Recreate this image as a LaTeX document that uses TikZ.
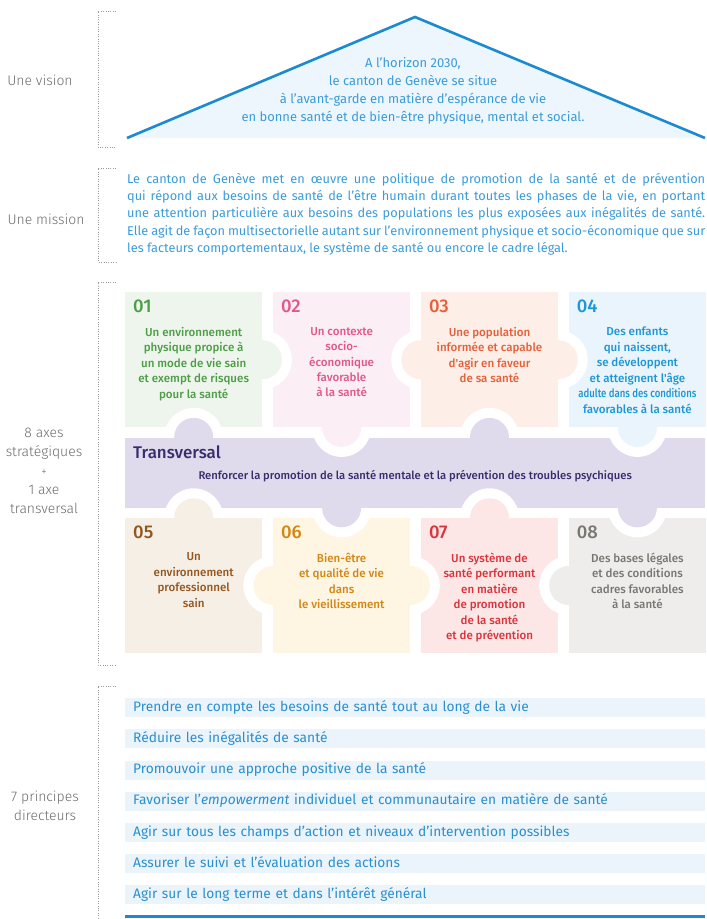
\documentclass[tikz,border=0pt]{standalone}
\usepackage{fontspec}
\usepackage{graphicx}
\setmainfont{Fira Sans}
\newfontfamily\lightfont{Fira Sans Light}
\newfontfamily\medfont{Fira Sans Medium}
\usetikzlibrary{positioning}

\definecolor{roofblue}{HTML}{1B8AD3}
\definecolor{roofbg}{HTML}{EDF6FC}
\definecolor{textblue}{HTML}{3A9BD9}
\definecolor{princblue}{HTML}{2A8FD0}
\definecolor{barblue}{HTML}{EBF4FB}
\definecolor{labelgray}{HTML}{6B6B6B}
\definecolor{bracketgray}{HTML}{9A9A9A}
\definecolor{fillA}{HTML}{EDF5EC}\definecolor{textA}{HTML}{4E9D47}
\definecolor{fillB}{HTML}{FCEEF5}\definecolor{textB}{HTML}{E0578B}
\definecolor{fillC}{HTML}{FDEFE7}\definecolor{textC}{HTML}{E5603A}
\definecolor{fillD}{HTML}{E9F4FC}\definecolor{textD}{HTML}{1C97D6}
\definecolor{fillT}{HTML}{DFDBED}\definecolor{textT}{HTML}{3A2D6B}
\definecolor{fillE}{HTML}{F5EFE6}\definecolor{textE}{HTML}{94561F}
\definecolor{fillF}{HTML}{FEF6E3}\definecolor{textF}{HTML}{D18615}
\definecolor{fillG}{HTML}{FCE7E6}\definecolor{textG}{HTML}{D8343C}
\definecolor{fillH}{HTML}{EEEDEC}\definecolor{textH}{HTML}{7B7671}

\tikzset{
    bracket/.style={draw=bracketgray, dash pattern=on 0.8bp off 1.6bp, line width=0.8bp},
    sidelabel/.style={text=labelgray, align=center, inner sep=0pt, font=\lightfont\fontsize{14}{19}\selectfont},
    piece/.style={anchor=north west, minimum width=137bp, minimum height=135bp, inner sep=0pt},
    pnum/.style={anchor=north west, inner sep=0pt, font=\medfont\fontsize{18.5}{18.5}\selectfont},
    ptext/.style={anchor=north, inner sep=0pt, align=center, font=\medfont\fontsize{11.6}{15.5}\selectfont},
    principle/.style={fill=barblue, text=princblue, text width=564bp, inner xsep=8bp, inner ysep=0pt,
        minimum height=19bp, text height=10bp, text depth=3bp, align=left, font=\fontsize{13.8}{16}\selectfont},
    knob/.style={radius=19.5bp},
    hole/.style={fill=white, radius=29.5bp}
}

\begin{document}
\begin{tikzpicture}[x=1bp, y=-1bp]
                        \useasboundingbox (0,0) rectangle (707,919);

                        \node[sidelabel] (lvision) at (40,80) {Une vision};
                        \node[sidelabel] (lmission) at (46,219) {Une mission};
                        \node[sidelabel] (laxes) at (44,471) {8 axes\\ stratégiques\\ {\fontsize{11}{19}\selectfont +}\\ 1 axe\\ transversal};
                        \node[sidelabel] (lprinc) at (45,806) {7 principes\\ directeurs};

                        \draw[bracket] (116,11) -- (98,11) -- (98,147) -- (116,147);
                        \draw[bracket] (116,168) -- (98,168) -- (98,262) -- (116,262);
                        \draw[bracket] (116,282) -- (98,282) -- (98,665) -- (116,665);
                        \draw[bracket] (116,686) -- (98,686) -- (98,919);

                        \coordinate (eaveL) at (127,138);
                        \coordinate (apex) at (415,17);
                        \coordinate (eaveR) at (705,138);
                        \fill[roofbg] (eaveL) -- (apex) -- (eaveR) -- cycle;
                        \draw[roofblue, line width=2.6bp] (eaveL) -- (apex) -- (eaveR);
                        \node[text=textblue, align=center, font=\fontsize{13}{18}\selectfont] (vision) at (413,91)
                        {A l'horizon 2030,\\ le canton de Genève se situe\\ à l'avant-garde en matière d'espérance de vie\\ en bonne santé et de bien-être physique, mental et social.};

                        \node[anchor=north west, inner sep=0pt, text=textblue, align=left, font=\fontsize{12.8}{17.3}\selectfont] (mission) at (127,173)
                        {\makebox[578bp][s]{Le canton de Genève met en œuvre une politique de promotion de la santé et de prévention}\\
                         \makebox[578bp][s]{qui répond aux besoins de santé de l'être humain durant toutes les phases de la vie, en portant}\\
                         \makebox[578bp][s]{une attention particulière aux besoins des populations les plus exposées aux inégalités de santé.}\\
                         \makebox[578bp][s]{Elle agit de façon multisectorielle autant sur l'environnement physique et socio-économique que sur}\\
                         les facteurs comportementaux, le système de santé ou encore le cadre légal.};

                        \node[piece, fill=fillA] (p1) at (125,292) {};
                        \node[piece, fill=fillB, right=10.5bp of p1] (p2) {};
                        \node[piece, fill=fillC, right=10.5bp of p2] (p3) {};
                        \node[piece, fill=fillD, right=10.5bp of p3] (p4) {};
                        \node[anchor=north west, inner sep=0pt, minimum width=580bp, minimum height=70bp, fill=fillT,
                            below right=10bp and 0bp of p1.south west] (trans) {};
                        \node[piece, fill=fillE, below right=10bp and 0bp of trans.south west] (p5) {};
                        \node[piece, fill=fillF, right=10.5bp of p5] (p6) {};
                        \node[piece, fill=fillG, right=10.5bp of p6] (p7) {};
                        \node[piece, fill=fillH, right=10.5bp of p7] (p8) {};

                        \begin{scope}
                            \clip (p2.north west) rectangle (p2.south east);
                            \fill[hole] (p1.east) circle[] (p3.west) circle[];
                        \end{scope}
                        \begin{scope}
                            \clip (p4.north west) rectangle (p4.south east);
                            \fill[hole] (p3.east) circle[];
                        \end{scope}
                        \begin{scope}
                            \clip (p1.north west) rectangle (p1.south east);
                            \fill[hole] (p1.south |- trans.north) circle[];
                        \end{scope}
                        \begin{scope}
                            \clip (p3.north west) rectangle (p3.south east);
                            \fill[hole] (p3.south |- trans.north) circle[];
                        \end{scope}
                        \begin{scope}
                            \clip (trans.north west) rectangle (trans.south east);
                            \fill[hole] (p2.south) circle[] (p4.south) circle[] (p5.north) circle[] (p7.north) circle[];
                        \end{scope}
                        \begin{scope}
                            \clip (p5.north west) rectangle (p5.south east);
                            \fill[hole] (p6.west) circle[];
                        \end{scope}
                        \begin{scope}
                            \clip (p7.north west) rectangle (p7.south east);
                            \fill[hole] (p6.east) circle[] (p8.west) circle[];
                        \end{scope}
                        \begin{scope}
                            \clip (p6.north west) rectangle (p6.south east);
                            \fill[hole] (p6.north |- trans.south) circle[];
                        \end{scope}
                        \begin{scope}
                            \clip (p8.north west) rectangle (p8.south east);
                            \fill[hole] (p8.north |- trans.south) circle[];
                        \end{scope}

                        \fill[fillA, knob] (p1.east) circle[];
                        \fill[fillC, knob] (p3.west) circle[] (p3.east) circle[];
                        \fill[fillB, knob] (p2.south) circle[];
                        \fill[fillD, knob] (p4.south) circle[];
                        \fill[fillT, knob] (p1.south |- trans.north) circle[] (p3.south |- trans.north) circle[]
                            (p6.north |- trans.south) circle[] (p8.north |- trans.south) circle[];
                        \fill[fillE, knob] (p5.north) circle[];
                        \fill[fillF, knob] (p6.west) circle[] (p6.east) circle[];
                        \fill[fillG, knob] (p7.north) circle[];
                        \fill[fillH, knob] (p8.west) circle[];

                        \node[pnum, text=textA] (n1) at ([shift={(8bp,-8bp)}]p1.north west) {01};
                        \node[pnum, text=textB] (n2) at ([shift={(8bp,-8bp)}]p2.north west) {02};
                        \node[pnum, text=textC] (n3) at ([shift={(8bp,-8bp)}]p3.north west) {03};
                        \node[pnum, text=textD] (n4) at ([shift={(8bp,-8bp)}]p4.north west) {04};
                        \node[pnum, text=textE] (n5) at ([shift={(8bp,-8bp)}]p5.north west) {05};
                        \node[pnum, text=textF] (n6) at ([shift={(8bp,-8bp)}]p6.north west) {06};
                        \node[pnum, text=textG] (n7) at ([shift={(8bp,-8bp)}]p7.north west) {07};
                        \node[pnum, text=textH] (n8) at ([shift={(8bp,-8bp)}]p8.north west) {08};

                        \node[ptext, text=textA] (d1) at ([yshift=-35bp]p1.north) {Un environnement\\ physique propice à\\ un mode de vie sain\\ et exempt de risques\\ pour la santé};
                        \node[ptext, text=textB] (d2) at ([yshift=-35bp]p2.north) {Un contexte\\ socio-\\ économique\\ favorable\\ à la santé};
                        \node[ptext, text=textC] (d3) at ([yshift=-35bp]p3.north) {Une population\\ informée et capable\\ d'agir en faveur\\ de sa santé};
                        \node[ptext, text=textD] (d4) at ([yshift=-35bp]p4.north) {Des enfants\\ qui naissent,\\ se développent\\ et atteignent l'âge\\ \scalebox{0.83}[1]{adulte dans des conditions}\\ favorables à la santé};
                        \node[ptext, text=textE] (d5) at ([yshift=-35bp]p5.north) {Un\\ environnement\\ professionnel\\ sain};
                        \node[ptext, text=textF] (d6) at ([yshift=-35bp]p6.north) {Bien-être\\ et qualité de vie\\ dans\\ le vieillissement};
                        \node[ptext, text=textG] (d7) at ([yshift=-35bp]p7.north) {Un système de\\ santé performant\\ en matière\\ de promotion\\ de la santé\\ et de prévention};
                        \node[ptext, text=textH] (d8) at ([yshift=-35bp]p8.north) {Des bases légales\\ et des conditions\\ cadres favorables\\ à la santé};

                        \node[anchor=north west, inner sep=0pt, text=textT, font=\medfont\fontsize{17}{17}\selectfont] (ttitle) at ([shift={(8bp,-8bp)}]trans.north west) {Transversal};
                        \node[inner sep=0pt, text=textT, font=\medfont\fontsize{11.3}{13}\selectfont] (tsub) at ([yshift=-4bp]trans.center)
                        {Renforcer la promotion de la santé mentale et la prévention des troubles psychiques};

                        \node[principle, anchor=north west] (pr1) at (125,698) {Prendre en compte les besoins de santé tout au long de la vie};
                        \node[principle, below=11.8bp of pr1] (pr2) {Réduire les inégalités de santé};
                        \node[principle, below=11.8bp of pr2] (pr3) {Promouvoir une approche positive de la santé};
                        \node[principle, below=11.8bp of pr3] (pr4) {Favoriser l'\textit{empowerment} individuel et communautaire en matière de santé};
                        \node[principle, below=11.8bp of pr4] (pr5) {Agir sur tous les champs d'action et niveaux d'intervention possibles};
                        \node[principle, below=11.8bp of pr5] (pr6) {Assurer le suivi et l'évaluation des actions};
                        \node[principle, below=11.8bp of pr6] (pr7) {Agir sur le long terme et dans l'intérêt général};
                        \draw[roofblue, line width=2.6bp] ([yshift=-12bp]pr7.south west) -- ([yshift=-12bp]pr7.south east);
                    \end{tikzpicture}
\end{document}
